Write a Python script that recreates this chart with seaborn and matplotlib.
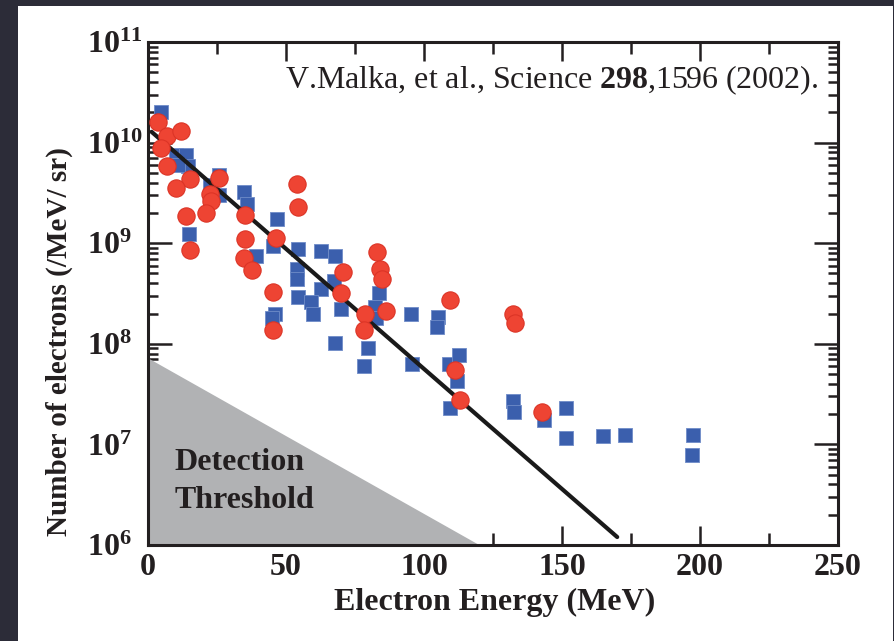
import numpy as np
import pandas as pd
import matplotlib
matplotlib.use("Agg")
import matplotlib.pyplot as plt
import seaborn as sns
from matplotlib.patches import Rectangle
from matplotlib.ticker import FixedLocator, LogLocator, NullFormatter

# ---------------- data ----------------
blue_energy = [4.6, 10.3, 13.9, 14.5, 10.8, 25.6, 22.3, 25.9, 34.9, 35.7,
               14.7, 39.1, 46.9, 45.3, 54.4, 54.0, 54.0, 62.5, 67.9, 67.3,
               62.7, 54.4, 58.9, 59.8, 69.9, 46.0, 44.8, 83.8, 82.3, 82.6,
               95.2, 105.0, 104.8, 67.9, 79.6, 78.4, 95.8, 109.0, 112.6, 112.0,
               109.6, 132.3, 132.6, 143.4, 151.6, 151.6, 165.0, 173.0, 197.6, 197.1]
blue_counts = [2.0e10, 7.6e9, 7.6e9, 5.8e9, 6.0e9, 4.8e9, 3.8e9, 3.0e9, 3.2e9, 2.45e9,
               1.23e9, 7.4e8, 1.74e9, 9.3e8, 8.7e8, 5.5e8, 4.4e8, 8.3e8, 7.4e8, 4.2e8,
               3.5e8, 2.95e8, 2.6e8, 2.0e8, 2.24e8, 2.0e8, 1.8e8, 3.2e8, 2.3e8, 1.8e8,
               2.0e8, 1.86e8, 1.48e8, 1.02e8, 9.1e7, 6.0e7, 6.3e7, 6.3e7, 7.8e7, 4.3e7,
               2.3e7, 2.7e7, 2.1e7, 1.74e7, 2.3e7, 1.15e7, 1.2e7, 1.23e7, 1.23e7, 7.8e6]

red_energy = [3.7, 6.9, 12.1, 4.6, 6.9, 15.1, 10.3, 25.9, 22.3, 22.9,
              21.1, 35.3, 13.9, 15.1, 35.3, 34.9, 37.7, 46.3, 45.3, 45.3,
              54.1, 54.3, 70.6, 69.9, 82.8, 84.1, 84.9, 78.7, 86.2, 78.1,
              109.6, 132.3, 132.8, 111.4, 113.2, 142.8]
red_counts = [1.6e10, 1.15e10, 1.3e10, 8.9e9, 5.9e9, 4.3e9, 3.5e9, 4.4e9, 3.1e9, 2.6e9,
              2.0e9, 1.9e9, 1.86e9, 8.5e8, 1.1e9, 7.2e8, 5.4e8, 1.12e9, 3.3e8, 1.38e8,
              3.9e9, 2.3e9, 5.2e8, 3.2e8, 8.1e8, 5.6e8, 4.4e8, 2.0e8, 2.1e8, 1.38e8,
              2.75e8, 2.0e8, 1.6e8, 5.5e7, 2.75e7, 2.1e7]

fit_energy = [1.3, 170.0]
fit_counts = [1.28e10, 1.2e6]

threshold_energy = [0.0, 0.0, 120.0]
threshold_counts = [1.0e6, 7.2e7, 1.0e6]

x_ticks = [0, 50, 100, 150, 200, 250]
y_exponents = [6, 7, 8, 9, 10, 11]

citation = r"V.Malka, et al., Science $\mathbf{298}$,1596 (2002)."
threshold_lines = ["Detection", "Threshold"]
x_label = "Electron Energy (MeV)"
y_label = "Number of electrons (/MeV/ sr)"

# ---------------- style ----------------
sns.set_style("ticks")
plt.rcParams["font.family"] = ["Liberation Serif", "DejaVu Serif"]
plt.rcParams["mathtext.fontset"] = "custom"
plt.rcParams["mathtext.rm"] = "Liberation Serif"
plt.rcParams["mathtext.bf"] = "Liberation Serif:bold"
plt.rcParams["mathtext.it"] = "Liberation Serif:italic"

INK = "#231f20"
BLUE = "#3b5fad"
RED = "#ee4433"

fig = plt.figure(figsize=(8.95, 6.41), dpi=100, facecolor="#2c2c38")
fig.patches.append(Rectangle((18 / 895, 0), (893 - 18) / 895, (641 - 6) / 641,
                             transform=fig.transFigure, facecolor="white",
                             edgecolor="none", zorder=-10))
ax = fig.add_axes([148 / 895, 1 - 545 / 641, 690 / 895, 503 / 641])
ax.set_facecolor("white")

# threshold region
ax.fill(threshold_energy, threshold_counts, color="#b1b2b4", lw=0, zorder=1)

blue_df = pd.DataFrame({"E": blue_energy, "N": blue_counts})
red_df = pd.DataFrame({"E": red_energy, "N": red_counts})
fit_df = pd.DataFrame({"E": fit_energy, "N": fit_counts})

sns.scatterplot(data=blue_df, x="E", y="N", marker="s", s=112, color=BLUE,
                edgecolor="#6f8cc8", linewidth=0.6, ax=ax, zorder=3)
sns.lineplot(data=fit_df, x="E", y="N", color="#1a1a1a", lw=3.0, ax=ax, zorder=4)
sns.scatterplot(data=red_df, x="E", y="N", marker="o", s=155, color=RED,
                edgecolor="#dc3426", linewidth=0.8, ax=ax, zorder=5)

ax.set_yscale("log")
ax.set_xlim(0, 250)
ax.set_ylim(1e6, 1e11)

# ticks
ax.xaxis.set_major_locator(FixedLocator(x_ticks))
ax.set_xticklabels([str(t) for t in x_ticks])
ax.xaxis.set_minor_locator(FixedLocator([25, 75, 125, 175, 225]))
yt = [10.0 ** e for e in y_exponents]
ax.yaxis.set_major_locator(FixedLocator(yt))
ax.set_yticklabels([r"$\mathbf{10^{%d}}$" % e for e in y_exponents])
ax.yaxis.set_minor_locator(LogLocator(base=10, subs=np.arange(2, 10), numticks=20))
ax.yaxis.set_minor_formatter(NullFormatter())

ax.tick_params(axis="both", which="both", direction="in", top=True, right=True,
               color=INK, width=1.8)
ax.tick_params(axis="x", which="major", length=13.5, pad=6,
               labelsize=23, labelcolor=INK)
ax.tick_params(axis="x", which="minor", length=8.5)
ax.tick_params(axis="y", which="major", length=17, pad=44,
               labelsize=23, labelcolor=INK)
ax.tick_params(axis="y", which="minor", length=7)
for lab in ax.get_xticklabels():
    lab.set_fontweight("bold")
for lab in ax.get_yticklabels():
    lab.set_horizontalalignment("left")

for sp in ax.spines.values():
    sp.set_visible(True)
    sp.set_linewidth(2.2)
    sp.set_color(INK)

ax.set_xlabel(x_label, fontsize=23, fontweight="bold", color=INK, va="center")
ax.xaxis.set_label_coords(0.503, -0.115)
ax.set_ylabel(y_label, fontsize=21, fontweight="bold", color=INK, va="center")
ax.yaxis.set_label_coords(-0.128, 0.405)

ax.text(0.971, 0.9085, citation, transform=ax.transAxes, ha="right",
        va="baseline", fontsize=23, color=INK, zorder=6)
ax.text(0.039, 0.149, threshold_lines[0], transform=ax.transAxes, ha="left",
        va="baseline", fontsize=23, fontweight="bold", color=INK, zorder=6)
ax.text(0.039, 0.0736, threshold_lines[1], transform=ax.transAxes, ha="left",
        va="baseline", fontsize=23, fontweight="bold", color=INK, zorder=6)

fig.savefig("out.png", dpi=100, facecolor=fig.get_facecolor())
